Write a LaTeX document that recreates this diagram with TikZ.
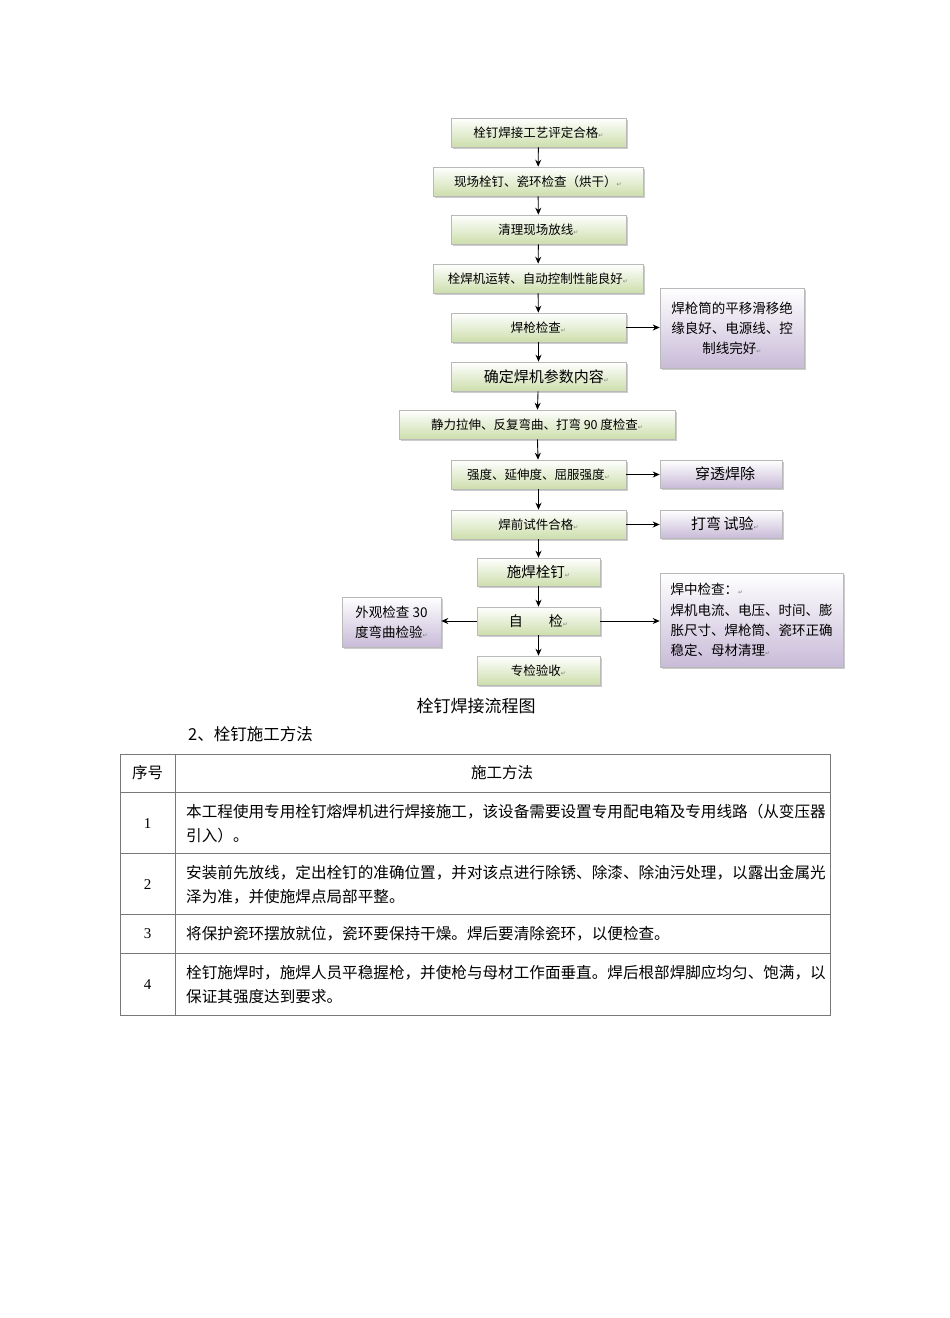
\documentclass[tikz,border=0pt]{standalone}
\usepackage{fontspec}
\setmainfont{Liberation Serif}
\newfontfamily\cjk{Noto Sans CJK SC}
\newfontfamily\djv{DejaVu Sans}
\usetikzlibrary{arrows.meta,shadows}
\definecolor{boxgreen}{RGB}{205,222,172}
\definecolor{boxpurple}{RGB}{200,187,216}
\definecolor{tline}{RGB}{120,120,120}
\newcommand\retmark{{\djv\fontsize{6}{6}\selectfont\textcolor{gray}{↵}}}
\newcommand\fs[1]{\fontsize{#1}{#1}\selectfont}
\begin{document}
\begin{tikzpicture}[x=1pt,y=-1pt,
  gbox/.style={draw=gray!55,line width=0.6pt,top color=white,bottom color=boxgreen,
    minimum width=175pt,minimum height=29pt,inner sep=1pt,
    font=\cjk\fs{12.5},
    drop shadow={shadow xshift=2pt,shadow yshift=-2pt,opacity=0.4,fill=gray}},
  pbox/.style={draw=gray!55,line width=0.6pt,top color=white,bottom color=boxpurple,
    inner sep=1pt,font=\cjk\fs{13.5},
    drop shadow={shadow xshift=2pt,shadow yshift=-2pt,opacity=0.4,fill=gray}},
  arr/.style={line width=0.9pt,-{Stealth[length=7pt,width=6pt]}},
  tl/.style={draw=tline,line width=0.7pt},
  ttext/.style={font=\cjk\fontsize{15.6}{24}\selectfont,align=left,anchor=west,inner sep=0pt}
]
\useasboundingbox[fill=white] (0,0) rectangle (950,1318);

% main column
\node[gbox] (n1) at (538.5,132.5) {栓钉焊接工艺评定合格\retmark};
\node[gbox,minimum width=210pt] (n2) at (538,181.5) {现场栓钉、瓷环检查（烘干）\retmark};
\node[gbox] (n3) at (538.5,229.5) {清理现场放线\retmark};
\node[gbox,minimum width=210pt] (n4) at (538,278.5) {栓焊机运转、自动控制性能良好\retmark};
\node[gbox] (n5) at (538.5,327.5) {焊枪检查\retmark};
\node[gbox,font=\cjk\fs{15}] (n6) at (538.5,376.5) {\hspace{16pt}确定焊机参数内容\retmark};
\node[gbox,minimum width=276pt,font=\cjk\fs{12.5}] (n7) at (537,424.5) {静力拉伸、反复弯曲、打弯 90 度检查\retmark};
\node[gbox] (n8) at (538.5,474.5) {强度、延伸度、屈服强度\retmark};
\node[gbox] (n9) at (538.5,524.5) {焊前试件合格\retmark};
\node[gbox,minimum width=123pt,minimum height=28pt,font=\cjk\fs{14.5}] (n10) at (538.5,572) {施焊栓钉\retmark};
\node[gbox,minimum width=123pt,minimum height=28pt,font=\cjk\fs{14}] (n11) at (538.5,621) {自\hspace{26pt}检\retmark};
\node[gbox,minimum width=123pt,minimum height=29pt] (n12) at (538.5,670.5) {专检验收\retmark};

% side boxes
\node[pbox,minimum width=144pt,minimum height=80pt,align=center,
  font=\cjk\fontsize{13.5}{20}\selectfont] (sa) at (732,328)
  {焊枪筒的平移滑移绝\\缘良好、电源线、控\\制线完好\retmark};
\node[pbox,minimum width=122pt,minimum height=28pt,font=\cjk\fs{15}] (sb) at (721,474) {\hspace{8pt}穿透焊除};
\node[pbox,minimum width=122pt,minimum height=28pt,font=\cjk\fs{15}] (sc) at (721,524) {\hspace{8pt}打弯\,试验\retmark};
\node[pbox,minimum width=183pt,minimum height=94pt,align=left,
  font=\cjk\fontsize{13.5}{20.3}\selectfont] (sd) at (751.5,620)
  {焊中检查：\retmark\\焊机电流、电压、时间、膨\\胀尺寸、焊枪筒、瓷环正确\\稳定、母材清理\retmark};
\node[pbox,minimum width=99pt,minimum height=50pt,align=center,
  font=\cjk\fontsize{13.5}{20}\selectfont] (se) at (391.5,622)
  {外观检查 30\\度弯曲检验\retmark};

% arrows
\foreach \a/\b in {n1/n2,n2/n3,n3/n4,n4/n5,n5/n6,n6/n7,n7/n8,n8/n9,n9/n10,n10/n11,n11/n12}
  \draw[arr] (\a) -- (\b);
\draw[arr] (n5.east) -- (n5.east -| sa.west);
\draw[arr] (n8.east) -- (n8.east -| sb.west);
\draw[arr] (n9.east) -- (n9.east -| sc.west);
\draw[arr] (n11.east) -- (n11.east -| sd.west);
\draw[arr] (n11.west) -- (n11.west -| se.east);

% captions
\node[font=\cjk\fs{17}] (cap) at (476,706) {栓钉焊接流程图};
\node[font=\cjk\fs{16.5},anchor=west,inner sep=0pt] (sec) at (188,734) {2、栓钉施工方法};

% table
\coordinate (tA) at (120,754);
\coordinate (tB) at (830,1015);
\draw[tl] (tA) rectangle (tB);
\draw[tl] (175,754) -- (175,1015);
\foreach \y in {792,853,914,953} \draw[tl] (120,\y) -- (830,\y);

\node[font=\cjk\fs{15.5}] (h1) at (147.5,773) {序号};
\node[font=\cjk\fs{15.5}] (h2) at (502,773) {施工方法};
\node[font=\fs{15}] (r1) at (147.5,824) {1};
\node[font=\fs{15}] (r2) at (147.5,885) {2};
\node[font=\fs{15}] (r3) at (147.5,934) {3};
\node[font=\fs{15}] (r4) at (147.5,985) {4};

\node[ttext] (t1) at (186,824) {本工程使用专用栓钉熔焊机进行焊接施工，该设备需要设置专用配电箱及专用线路（从变压器\\引入）。};
\node[ttext] (t2) at (186,885) {安装前先放线，定出栓钉的准确位置，并对该点进行除锈、除漆、除油污处理，以露出金属光\\泽为准，并使施焊点局部平整。};
\node[ttext] (t3) at (186,934) {将保护瓷环摆放就位，瓷环要保持干燥。焊后要清除瓷环，以便检查。};
\node[ttext] (t4) at (186,985) {栓钉施焊时，施焊人员平稳握枪，并使枪与母材工作面垂直。焊后根部焊脚应均匀、饱满，以\\保证其强度达到要求。};
\end{tikzpicture}
\end{document}
